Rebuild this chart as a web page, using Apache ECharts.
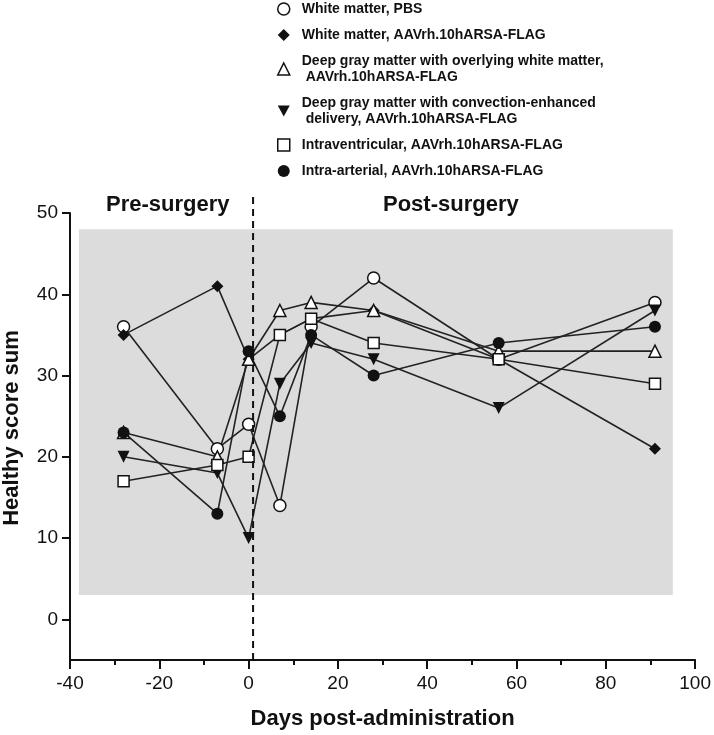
<!DOCTYPE html>
<html>
<head>
<meta charset="utf-8">
<script src="https://cdn.jsdelivr.net/npm/echarts@6/dist/echarts.min.js"></script>
<style>
  html, body { margin: 0; padding: 0; background: #fff; }
  #chart { width: 714px; height: 735px; }
</style>
</head>
<body>
<div id="chart"></div>
<script>
var days = [-28, -7, 0, 7, 14, 28, 56, 91];

var groupNames = [
  'White matter, PBS',
  'White matter, AAVrh.10hARSA-FLAG',
  'Deep gray matter with overlying white matter,\n AAVrh.10hARSA-FLAG',
  'Deep gray matter with convection-enhanced\n delivery, AAVrh.10hARSA-FLAG',
  'Intraventricular, AAVrh.10hARSA-FLAG',
  'Intra-arterial, AAVrh.10hARSA-FLAG'
];

var wmPbs      = [36, 21, 24, 14, 36, 42, 32, 39];
var wmAav      = [35, 41, 32, 35, 37, 38, 32, 21];
var dgOverlay  = [23, 20, 32, 38, 39, 38, 33, 33];
var dgCed      = [20, 18, 10, 29, 34, 32, 26, 38];
var intraVent  = [17, 19, 20, 35, 37, 34, 32, 29];
var intraArt   = [23, 13, 33, 25, 35, 30, 34, 36];

var yLabelTicks = [0, 10, 20, 30, 40, 50];
var yMinorTicks = [5, 15, 25, 35, 45];
var surgeryDay = 1;

var allValues = [wmPbs, wmAav, dgOverlay, dgCed, intraVent, intraArt];
var symbols = ['circle', 'diamond', 'triangle', 'path://M0,0 L10,0 L5,9 Z', 'rect', 'circle'];
var hollow = [true, false, true, false, true, false];
var sizes = [12, 12, 12, 12, 11, 12];

function markerStyle(i) {
  return {
    color: hollow[i] ? '#fff' : '#111',
    borderColor: '#111',
    borderWidth: hollow[i] ? 1.5 : 0
  };
}

var chart = echarts.init(document.getElementById('chart'));

var series = allValues.map(function (vals, i) {
  var s = {
    name: groupNames[i],
    type: 'line',
    data: days.map(function (d, j) { return [d, vals[j]]; }),
    symbol: symbols[i],
    symbolSize: sizes[i],
    showAllSymbol: true,
    clip: false,
    lineStyle: { color: '#222', width: 1.6 },
    itemStyle: markerStyle(i),
    emphasis: { disabled: true }
  };
  if (i === 0) {
    s.markArea = {
      silent: true,
      itemStyle: { color: '#dcdcdc' },
      data: [[{ coord: [-38, 48] }, { coord: [95, 3] }]]
    };
  }
  return s;
});

var legendData = groupNames.map(function (n, i) {
  return { name: n, icon: symbols[i], itemStyle: markerStyle(i) };
});

var font = 'Liberation Sans, Arial, sans-serif';

chart.setOption({
  animation: false,
  backgroundColor: '#fff',
  textStyle: { fontFamily: font },
  grid: { left: 70, right: 18, top: 213, bottom: 75, containLabel: false },
  legend: {
    orient: 'vertical',
    left: 272,
    top: -4,
    itemGap: 10,
    itemWidth: 12,
    itemHeight: 12,
    selectedMode: false,
    textStyle: {
      fontSize: 14,
      fontWeight: 'bold',
      color: '#111',
      lineHeight: 16,
      padding: [0, 0, 0, 7]
    },
    data: legendData
  },
  xAxis: {
    type: 'value',
    min: -40,
    max: 100,
    interval: 20,
    name: 'Days post-administration',
    nameLocation: 'middle',
    nameGap: 48,
    nameTextStyle: { fontSize: 22, fontWeight: 'bold', color: '#111' },
    axisLine: { show: true, onZero: false, lineStyle: { color: '#111', width: 2 } },
    axisTick: { show: true, length: 9, lineStyle: { color: '#111', width: 2 } },
    minorTick: { show: true, splitNumber: 2, length: 5, lineStyle: { color: '#111', width: 2 } },
    axisLabel: { fontSize: 19, color: '#111', margin: 14 },
    splitLine: { show: false }
  },
  yAxis: [{
    type: 'value',
    min: -5,
    max: 50,
    axisLine: { show: true, onZero: false, lineStyle: { color: '#111', width: 2 } },
    axisTick: { show: true, customValues: yLabelTicks, length: 8, lineStyle: { color: '#111', width: 2 } },
    axisLabel: { customValues: yLabelTicks, fontSize: 19, color: '#111', margin: 12 },
    splitLine: { show: false }
  }, {
    type: 'value',
    min: -5,
    max: 50,
    position: 'left',
    offset: 0,
    axisLine: { show: false },
    axisTick: { show: true, customValues: yMinorTicks, length: 5, lineStyle: { color: '#111', width: 2 } },
    axisLabel: { show: false },
    splitLine: { show: false }
  }],
  series: series
});

// surgery marker: dashed vertical line at day 1, running a little above the plot top
var lineBottom = chart.convertToPixel({ gridIndex: 0 }, [surgeryDay, -5]);
var lineTop = chart.convertToPixel({ gridIndex: 0 }, [surgeryDay, 50]);

chart.setOption({
  graphic: [
    {
      type: 'line', z: 50,
      shape: { x1: lineBottom[0], y1: lineBottom[1], x2: lineTop[0], y2: lineTop[1] - 20 },
      style: { stroke: '#111', lineWidth: 2, lineDash: [7, 5] }
    },
    { type: 'text', left: 106, top: 194, style: { text: 'Pre-surgery', font: 'bold 22px ' + font, fill: '#111' } },
    { type: 'text', left: 383, top: 194, style: { text: 'Post-surgery', font: 'bold 22px ' + font, fill: '#111' } },
    {
      type: 'text', x: 1, y: 428, rotation: Math.PI / 2,
      style: {
        text: 'Healthy score sum', font: 'bold 22px ' + font,
        fill: '#111', align: 'center', verticalAlign: 'top'
      }
    }
  ]
});
</script>
</body>
</html>
